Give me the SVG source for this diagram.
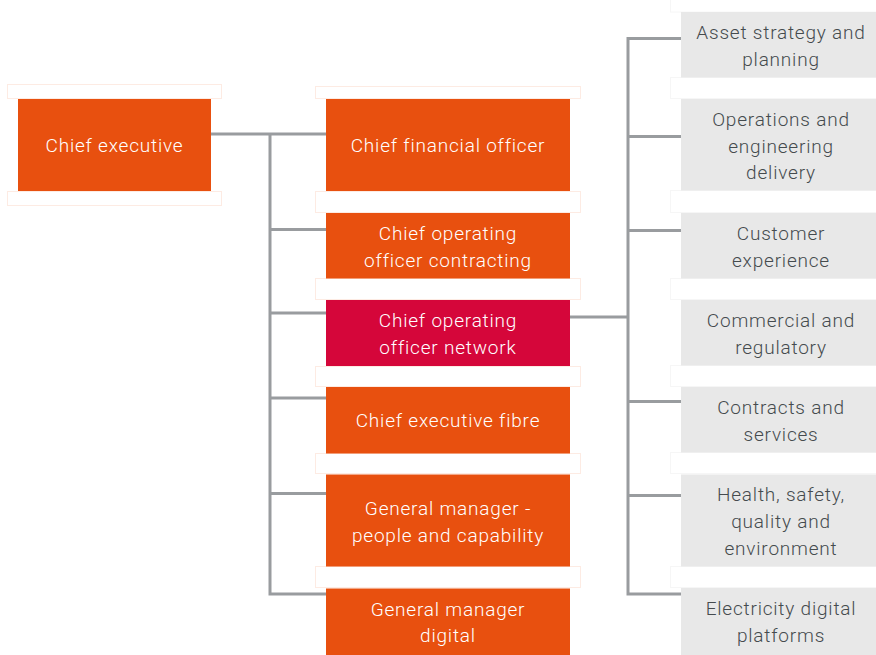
<svg xmlns="http://www.w3.org/2000/svg" width="876" height="655" viewBox="0 0 876 655">
<style>
.o{fill:#E8500F}
.r{fill:#D5063A}
.g{fill:#E8E8E8}
.sp{fill:#fff;stroke:#FDEBE3;stroke-width:1}
.spg{fill:#fff;stroke:#F6F6F6;stroke-width:1}
.w{fill:#fff;font-family:Roboto,"Liberation Sans",sans-serif;font-size:19px;font-weight:300;letter-spacing:0.8px;text-anchor:middle}
.d{fill:#454B4E;font-family:Roboto,"Liberation Sans",sans-serif;font-size:19px;font-weight:300;letter-spacing:0.8px;text-anchor:middle}
.c{fill:none;stroke:#999C9F;stroke-width:3}
</style>
<rect width="876" height="655" fill="#fff"/>
<g id="spacers">
<rect class="sp" x="7.5" y="84.5" width="214" height="14"/>
<rect class="sp" x="7.5" y="191.5" width="214" height="14"/>
<rect class="sp" x="315.5" y="86.5" width="265" height="12"/>
<rect class="sp" x="315.5" y="191.5" width="265" height="21"/>
<rect class="sp" x="315.5" y="278.5" width="265" height="21"/>
<rect class="sp" x="315.5" y="366.5" width="265" height="20"/>
<rect class="sp" x="315.5" y="453.5" width="265" height="20"/>
<rect class="sp" x="315.5" y="566.5" width="265" height="21"/>
<rect class="spg" x="670.5" y="-1" width="210" height="13"/>
<rect class="spg" x="670.5" y="77.5" width="210" height="21"/>
<rect class="spg" x="670.5" y="190.5" width="210" height="22"/>
<rect class="spg" x="670.5" y="278.5" width="210" height="21"/>
<rect class="spg" x="670.5" y="365.5" width="210" height="21"/>
<rect class="spg" x="670.5" y="452.5" width="210" height="21"/>
<rect class="spg" x="670.5" y="566.5" width="210" height="21"/>
</g>
<g id="connectors">
<path class="c" d="M211 134H326M270 134V594H326M270 229.5H326M270 313H326M270 398H326M270 493.5H326"/>
<path class="c" d="M567 317H628M681 38.5H628V594H681M628 136.5H681M628 230.5H681M628 401.5H681M628 495.5H681"/>
</g>
<g id="chief-executive">
<rect class="o" x="18" y="99" width="193" height="92"/>
<text class="w" x="114.5" y="152">Chief executive</text>
</g>
<g id="cfo">
<rect class="o" x="326" y="99" width="244" height="92"/>
<text class="w" x="448" y="152">Chief financial officer</text>
</g>
<g id="coo-contracting">
<rect class="o" x="326" y="213" width="244" height="65.5"/>
<text class="w" x="448" y="240">Chief operating</text>
<text class="w" x="448" y="267">officer contracting</text>
</g>
<g id="coo-network">
<rect class="r" x="326" y="300" width="244" height="66"/>
<text class="w" x="448" y="327">Chief operating</text>
<text class="w" x="448" y="354">officer network</text>
</g>
<g id="ce-fibre">
<rect class="o" x="326" y="387" width="244" height="66.5"/>
<text class="w" x="448" y="427">Chief executive fibre</text>
</g>
<g id="gm-people">
<rect class="o" x="326" y="474.5" width="244" height="92"/>
<text class="w" x="448" y="515">General manager -</text>
<text class="w" x="448" y="542">people and capability</text>
</g>
<g id="gm-digital">
<rect class="o" x="326" y="588.5" width="244" height="66.5"/>
<text class="w" x="448" y="616">General manager</text>
<text class="w" x="448" y="642">digital</text>
</g>
<g id="asset-strategy">
<rect class="g" x="681" y="12" width="200" height="65.5"/>
<text class="d" x="781" y="39">Asset strategy and</text>
<text class="d" x="781" y="66">planning</text>
</g>
<g id="operations">
<rect class="g" x="681" y="99" width="200" height="91.5"/>
<text class="d" x="781" y="126">Operations and</text>
<text class="d" x="781" y="153">engineering</text>
<text class="d" x="781" y="179">delivery</text>
</g>
<g id="customer">
<rect class="g" x="681" y="213" width="200" height="65.5"/>
<text class="d" x="781" y="240">Customer</text>
<text class="d" x="781" y="267">experience</text>
</g>
<g id="commercial">
<rect class="g" x="681" y="300" width="200" height="65.5"/>
<text class="d" x="781" y="327">Commercial and</text>
<text class="d" x="781" y="354">regulatory</text>
</g>
<g id="contracts">
<rect class="g" x="681" y="387" width="200" height="65.5"/>
<text class="d" x="781" y="414">Contracts and</text>
<text class="d" x="781" y="441">services</text>
</g>
<g id="hsqe">
<rect class="g" x="681" y="474.5" width="200" height="92"/>
<text class="d" x="781" y="501">Health, safety,</text>
<text class="d" x="781" y="528">quality and</text>
<text class="d" x="781" y="555">environment</text>
</g>
<g id="electricity-digital">
<rect class="g" x="681" y="588" width="200" height="67"/>
<text class="d" x="781" y="615">Electricity digital</text>
<text class="d" x="781" y="642">platforms</text>
</g>
</svg>
